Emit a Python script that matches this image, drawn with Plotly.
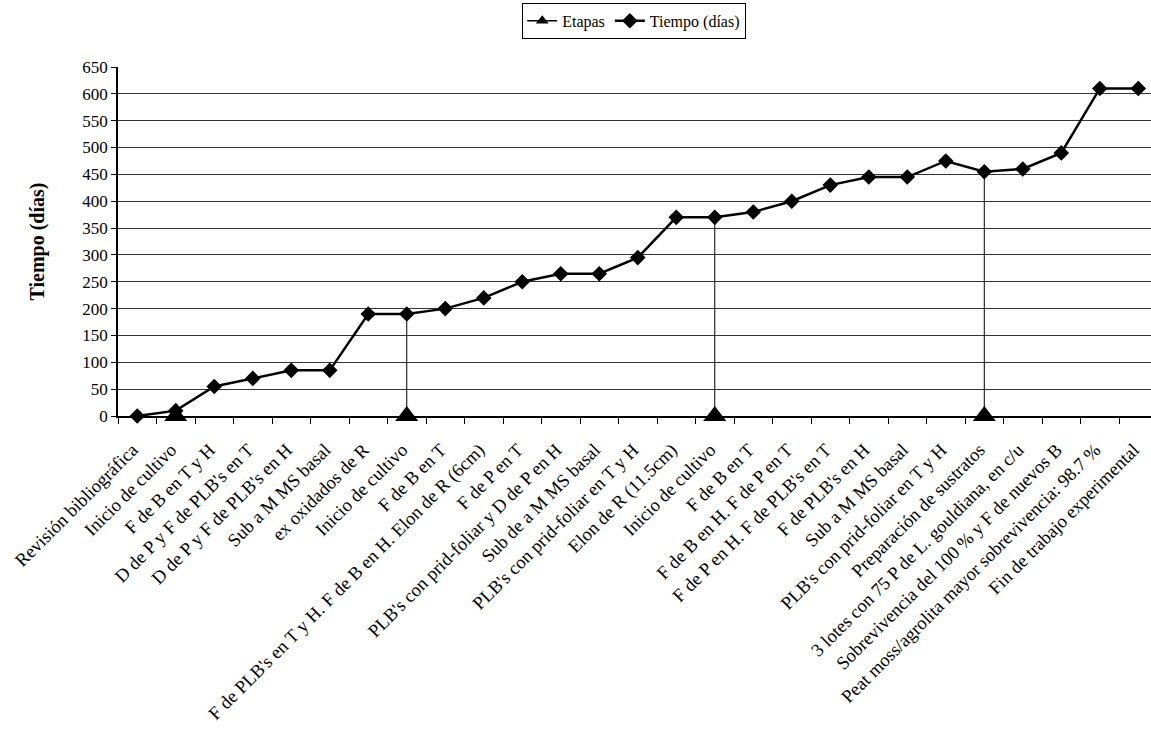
import plotly.graph_objects as go

# Actividades del cronograma (eje X)
actividades = [
    "Revisión bibliográfica",
    "Inicio de cultivo",
    "F de B en T y H",
    "D de P y F de PLB's en T",
    "D de P y F de PLB's en H",
    "Sub a M MS basal",
    "ex oxidados de R",
    "Inicio de cultivo",
    "F de B en T",
    "F de PLB's en T y H. F de B en H. Elon de R (6cm)",
    "F de P en T",
    "PLB's con prid-foliar y D de P en H",
    "Sub de a M MS basal",
    "PLB's con prid-foliar en T y H",
    "Elon de R (11.5cm)",
    "Inicio de cultivo",
    "F de B en T",
    "F de B en H. F de P en T",
    "F de P en H. F de PLB's en T",
    "F de PLB's en H",
    "Sub a M MS basal",
    "PLB's con prid-foliar en T y H",
    "Preparación de sustratos",
    "3 lotes con 75 P de L. gouldiana, en c/u",
    "Sobrevivencia del 100 % y F de nuevos B",
    "Peat moss/agrolita mayor sobrevivencia: 98.7 %",
    "Fin de trabajo experimental",
]

# Tiempo acumulado (días)
tiempo = [0, 10, 55, 70, 85, 85, 190, 190, 200, 220, 250, 265, 265, 295,
          370, 370, 380, 400, 430, 445, 445, 475, 455, 460, 490, 610, 610]

# Índices de las actividades que inician una etapa
etapas_idx = [1, 7, 15, 22]
etapas_val = [0, 0, 0, 0]

y_ticks = list(range(0, 651, 50))

FONT = "Liberation Serif, Times New Roman, serif"
x_pos = list(range(len(actividades)))
label_pos = [x - 0.12 for x in x_pos]

fig = go.Figure()

# Líneas verticales desde cada etapa hasta el tiempo correspondiente
vx, vy = [], []
for i in etapas_idx:
    vx += [i, i, None]
    vy += [0, tiempo[i], None]
fig.add_trace(go.Scatter(
    x=vx, y=vy, mode="lines", line=dict(color="black", width=1),
    showlegend=False, hoverinfo="skip",
))

fig.add_trace(go.Scatter(
    x=x_pos, y=tiempo, name="Tiempo (días)", mode="lines+markers",
    line=dict(color="black", width=2.5),
    marker=dict(symbol="diamond", size=12, color="black"),
    cliponaxis=False, legendrank=2,
))

# Marcadores de etapa
fig.add_trace(go.Scatter(
    x=etapas_idx, y=etapas_val, name="Etapas", mode="markers",
    marker=dict(symbol="triangle-up", size=20, color="black"),
    cliponaxis=False, showlegend=False, legendgroup="etapas",
))
# Entrada de leyenda de la serie Etapas
fig.add_trace(go.Scatter(
    x=[None], y=[None], name="Etapas", mode="lines+markers",
    line=dict(color="black", width=1.5),
    marker=dict(symbol="triangle-up", size=11, color="black"),
    legendrank=1, legendgroup="etapas",
))

fig.update_layout(
    width=1151, height=731,
    margin=dict(l=118, r=0, t=67, b=315),
    paper_bgcolor="white", plot_bgcolor="white",
    font=dict(family=FONT, size=16, color="black"),
    legend=dict(
        orientation="h", x=0.551, y=0.996, xref="container", yref="container",
        xanchor="center", yanchor="top",
        bordercolor="black", borderwidth=1, bgcolor="white",
        font=dict(family=FONT, size=16), itemwidth=30,
        tracegroupgap=0,
    ),
    xaxis=dict(
        range=[-0.5, 26.33],
        tickmode="array", tickvals=label_pos, ticktext=actividades,
        tickangle=-45, ticks="", showgrid=False, zeroline=False,
        ticklabelstandoff=14,
        showline=True, linecolor="black", linewidth=1.5,
        tickfont=dict(family=FONT, size=18.5),
        minor=dict(tick0=-0.5, dtick=1, ticks="outside", ticklen=6,
                   tickcolor="black", tickwidth=1, showgrid=False),
    ),
    yaxis=dict(
        range=[0, 650], tickmode="array", tickvals=y_ticks,
        ticks="outside", ticklen=5, tickcolor="black",
        showgrid=True, gridcolor="#333333", gridwidth=1,
        zeroline=False, showline=True, linecolor="black", linewidth=1.5,
        tickfont=dict(family=FONT, size=17),
        title=dict(text="<b>Tiempo (días)</b>", font=dict(family=FONT, size=20),
                   standoff=32),
    ),
)

fig.write_html("out.html")
